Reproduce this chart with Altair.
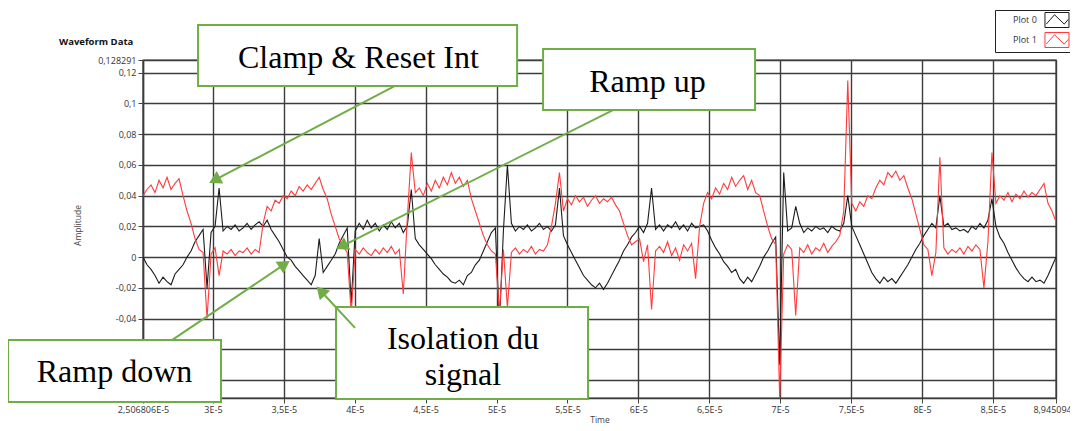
import math
import altair as alt
import pandas as pd

# ---------------- data ----------------
T_START = 2.506806e-5
T_END = 8.945094e-5
A_MIN = -0.0917
A_MAX = 0.128291

series_names = ["Plot 0", "Plot 1"]

# amplitudes in thousandths, uniformly sampled from T_START to T_END
plot0_milli = [
    0, -5, -8, -12, -17, -13, -16, -18, -11, -8,
    -5, 0, 4, 10, 14, 18, -20, 16, 20, 45,
    17, 20, 18, 21, 17, 19, 22, 18, 21, 23,
    20, 24, 18, 14, 10, 5, 0, -2, -6, -9,
    -12, -15, -18, -12, 12, -10, -6, -2, 2, 9,
    14, 19, -30, 17, 22, 18, 24, 19, 22, 17,
    21, 18, 23, 19, 22, 16, 20, 44, 12, 8,
    5, 2, -1, -5, -8, -11, -13, -16, -17, -15,
    -18, -12, -10, -5, -2, 4, 10, 16, 19, -44,
    17, 60, 22, 17, 20, 18, 21, 17, 19, 22,
    18, 20, 17, 21, 45, 14, 8, 3, -2, -7,
    -12, -15, -18, -20, -17, -21, -17, -12, -7, -2,
    4, 8, 13, 16, 20, 16, 22, 45, 18, 21,
    17, 21, 19, 23, 18, 21, 17, 22, 19, 20,
    21, 17, 11, 6, 2, -3, -6, -10, -8, -14,
    -17, -13, -16, -11, -6, 0, 4, 9, 13, -70,
    55, 17, 19, 33, 22, 16, 19, 17, 20, 18,
    19, 16, 20, 18, 17, 22, 40, 20, 14, 8,
    2, -4, -10, -14, -17, -13, -16, -14, -17, -13,
    -9, -5, 0, 5, 9, 14, 18, 22, 19, 40,
    20, 22, 18, 19, 17, 18, 16, 20, 18, 22,
    19, 24, 38, 20, 13, 9, 3, -2, -7, -11,
    -14, -16, -13, -16, -15, -17, -12, -6, 0,
]
plot1_milli = [
    40, 44, 47, 42, 50, 45, 52, 44, 48, 51,
    40, 30, 22, 12, 5, 3, -40, 2, 6, -12,
    4, 2, 5, 1, 4, 3, 6, 2, 5, 3,
    22, 33, 30, 37, 35, 40, 38, 43, 40, 46,
    43, 47, 44, 48, 52, 44, 38, 28, 20, 12,
    7, 3, -37, 5, 2, 6, 3, 1, 5, 2,
    6, 3, 7, 2, 5, -24, 25, 68, 42, 45,
    40, 48, 43, 50, 45, 52, 47, 55, 48, 52,
    46, 50, 38, 30, 22, 14, 8, 4, 2, -36,
    5, -33, 3, 6, 2, 5, 3, 7, 2, 5,
    4, 8, 20, 35, 55, 30, 38, 34, 40, 36,
    39, 33, 37, 40, 35, 38, 36, 39, 34, 30,
    22, 14, 8, 10, 12, -3, 8, -34, 4, 7,
    3, 10, 1, 6, -2, 8, 4, 9, -14, 20,
    35, 42, 38, 45, 41, 48, 44, 52, 46, 50,
    53, 44, 50, 42, 40, 30, 20, 12, 8, -92,
    2, 8, 5, -38, 6, 3, 8, 2, 6, 4,
    9, 3, 7, 10, 14, 30, 115, 35, 30, 36,
    33, 40, 38, 45, 50, 47, 55, 52, 56, 50,
    53, 45, 38, 28, 18, 8, 5, -12, 3, 65,
    6, 2, 5, 3, 6, 2, 7, 4, 8, 5,
    -20, 10, 68, 35, 40, 37, 42, 36, 41, 38,
    43, 39, 42, 40, 44, 48, 35, 30, 23,
]

x_tick_values = [T_START, 3e-5, 3.5e-5, 4e-5, 4.5e-5, 5e-5, 5.5e-5, 6e-5,
                 6.5e-5, 7e-5, 7.5e-5, 8e-5, 8.5e-5, T_END]
x_tick_labels = ["2,506806E-5", "3E-5", "3,5E-5", "4E-5", "4,5E-5", "5E-5", "5,5E-5",
                 "6E-5", "6,5E-5", "7E-5", "7,5E-5", "8E-5", "8,5E-5", "8,945094E-"]
y_tick_values = [-0.08, -0.06, -0.04, -0.02, 0, 0.02, 0.04, 0.06, 0.08, 0.1, 0.12, 0.128291]
# the two lowest labels are hidden behind the "Ramp down" box in the reference
y_tick_labels = ["", "", "-0,04", "-0,02", "0", "0,02", "0,04", "0,06",
                 "0,08", "0,1", "0,12", "0,128291"]

# annotation boxes (time / amplitude coordinates)
box_t_left = [2.895e-5, 5.328e-5, 1.555e-5, 3.868e-5]
box_t_right = [5.145e-5, 6.823e-5, 3.057e-5, 5.645e-5]
box_a_top = [0.1511, 0.1355, -0.0540, -0.0325]
box_a_bottom = [0.1114, 0.0957, -0.0943, -0.0924]

text_lines = ["Clamp & Reset Int", "Ramp up", "Ramp down", "Isolation du", "signal"]
text_t = [4.026e-5, 6.064e-5, 2.306e-5, 4.763e-5, 4.763e-5]
text_a = [0.1231, 0.1075, -0.0813, -0.0598, -0.0832]

arrow_t_from = [4.284e-5, 5.821e-5, 2.711e-5, 4.002e-5]
arrow_a_from = [0.1114, 0.0957, -0.0540, -0.0461]
arrow_t_to = [2.986e-5, 3.882e-5, 3.529e-5, 3.741e-5]
arrow_a_to = [0.0489, 0.0059, -0.0032, -0.0201]

# ---------------- layout / style ----------------
W, H = 913, 338
GRID = "#3c3c3c"
GREEN = "#70AD47"
SANS = "Open Sans"
HEAD_SIZE = 200

n = len(plot0_milli)
dt = (T_END - T_START) / (n - 1)
rows = []
for name, vals in zip(series_names, [plot0_milli, plot1_milli]):
    for i, v in enumerate(vals):
        rows.append({"time": T_START + i * dt, "amplitude": v / 1000.0, "series": name})
wave = pd.DataFrame(rows)

boxes = pd.DataFrame({"t1": box_t_left, "t2": box_t_right, "a1": box_a_top, "a2": box_a_bottom})
texts = pd.DataFrame({"label": text_lines, "t": text_t, "a": text_a})

px_t = W / (T_END - T_START)
px_a = H / (A_MAX - A_MIN)
h = math.sqrt(3) * math.sqrt(HEAD_SIZE) / 4  # centre-to-tip distance of triangle
arows = []
for tf, af, tt, at in zip(arrow_t_from, arrow_a_from, arrow_t_to, arrow_a_to):
    dx = (tt - tf) * px_t
    dy = -(at - af) * px_a
    L = math.hypot(dx, dy)
    ux, uy = dx / L, dy / L
    ang = math.degrees(math.atan2(dx, -dy)) % 360
    tc = tt - h * ux / px_t
    ac = at + h * uy / px_a
    arows.append({"tf": tf, "af": af, "tc": tc, "ac": ac, "angle": ang})
arrows = pd.DataFrame(arows)


def label_expr(vals, labels, tol):
    expr = "''"
    for v, l in reversed(list(zip(vals, labels))):
        expr = f"abs(datum.value - ({v!r})) < {tol} ? '{l}' : {expr}"
    return expr


xscale = alt.Scale(domain=[T_START, T_END], nice=False, zero=False)
yscale = alt.Scale(domain=[A_MIN, A_MAX], nice=False, zero=False)

xaxis = alt.Axis(
    values=x_tick_values, labelExpr=label_expr(x_tick_values, x_tick_labels, 1e-9),
    title="Time", grid=True, gridColor=GRID, gridWidth=1.4, domainColor=GRID,
    domainWidth=1.4, tickColor="#444", tickSize=5, labelFont=SANS, labelFontSize=9,
    labelColor="#333", labelPadding=2, labelOverlap=False, labelFlush=False,
    titleFont=SANS, titleFontSize=8.5, titleFontWeight="normal", titleColor="#444",
    titleY=24, titleBaseline="alphabetic", zindex=0,
)
yaxis = alt.Axis(
    values=y_tick_values, labelExpr=label_expr(y_tick_values, y_tick_labels, 1e-4),
    title="Amplitude", grid=True, gridColor=GRID, gridWidth=1.4, domainColor=GRID,
    domainWidth=1.4, tickColor="#444", tickSize=5, labelFont=SANS, labelFontSize=9,
    labelColor="#333", labelPadding=2, labelOverlap=False, labelFlush=False,
    titleFont=SANS, titleFontSize=8.5, titleFontWeight="normal", titleColor="#444",
    titleX=-61, titleY=165, titleBaseline="bottom", zindex=0,
)

# legend icon: framed zigzag drawn to the right of the label
ICON = ("M5.33,-1 L8.53,-1 L8.53,1 L5.33,1 Z "
        "M5.5,0.55 L6.6,-0.7 L7.9,0.55 L8.45,-0.1")
legend = alt.Legend(
    title=None, orient="none", legendX=852, legendY=-50, direction="vertical",
    symbolType=ICON, symbolSize=225, symbolStrokeWidth=1, symbolFillColor="white",
    labelOffset=0, labelFont=SANS, labelFontSize=9,
    labelColor="#333", strokeColor="#222", fillColor="white", padding=2, rowPadding=0,
)

lines = alt.Chart(wave).mark_line(clip=True, strokeWidth=1.1).encode(
    x=alt.X("time:Q", scale=xscale, axis=xaxis),
    y=alt.Y("amplitude:Q", scale=yscale, axis=yaxis),
    color=alt.Color("series:N", scale=alt.Scale(domain=series_names, range=["#1c1c1c", "#ff3b3b"]),
                    legend=legend),
)

box_layer = alt.Chart(boxes).mark_rect(fill="white", stroke=GREEN, strokeWidth=2).encode(
    x=alt.X("t1:Q", scale=xscale, axis=xaxis), x2="t2:Q",
    y=alt.Y("a1:Q", scale=yscale, axis=yaxis), y2="a2:Q",
)
arrow_layer = alt.Chart(arrows).mark_rule(stroke=GREEN, strokeWidth=2).encode(
    x=alt.X("tf:Q", scale=xscale, axis=xaxis), x2="tc:Q",
    y=alt.Y("af:Q", scale=yscale, axis=yaxis), y2="ac:Q",
)
head_layer = alt.Chart(arrows).mark_point(shape="triangle", filled=True, color=GREEN,
                                          size=HEAD_SIZE, opacity=1).encode(
    x=alt.X("tc:Q", scale=xscale, axis=xaxis),
    y=alt.Y("ac:Q", scale=yscale, axis=yaxis),
    angle=alt.Angle("angle:Q", scale=None),
)
text_layer = alt.Chart(texts).mark_text(font="Liberation Serif", fontSize=32,
                                        baseline="alphabetic", align="center",
                                        color="black").encode(
    x=alt.X("t:Q", scale=xscale, axis=xaxis),
    y=alt.Y("a:Q", scale=yscale, axis=yaxis),
    text="label:N",
)

chart = alt.layer(lines, box_layer, arrow_layer, head_layer, text_layer).properties(
    width=W, height=H,
    autosize=alt.AutoSizeParams(type="none"),
    padding={"left": 135, "top": 52, "right": 14, "bottom": 25},
    title=alt.TitleParams("Waveform Data", anchor="start", frame="group", dx=-84, dy=50,
                          offset=13, fontSize=9.5, fontWeight="bold", font=SANS,
                          color="#111"),
).configure_view(stroke=GRID, strokeWidth=1.4, fill="white")

chart.save("out.html", embed_options={"renderer": "svg", "actions": False})
